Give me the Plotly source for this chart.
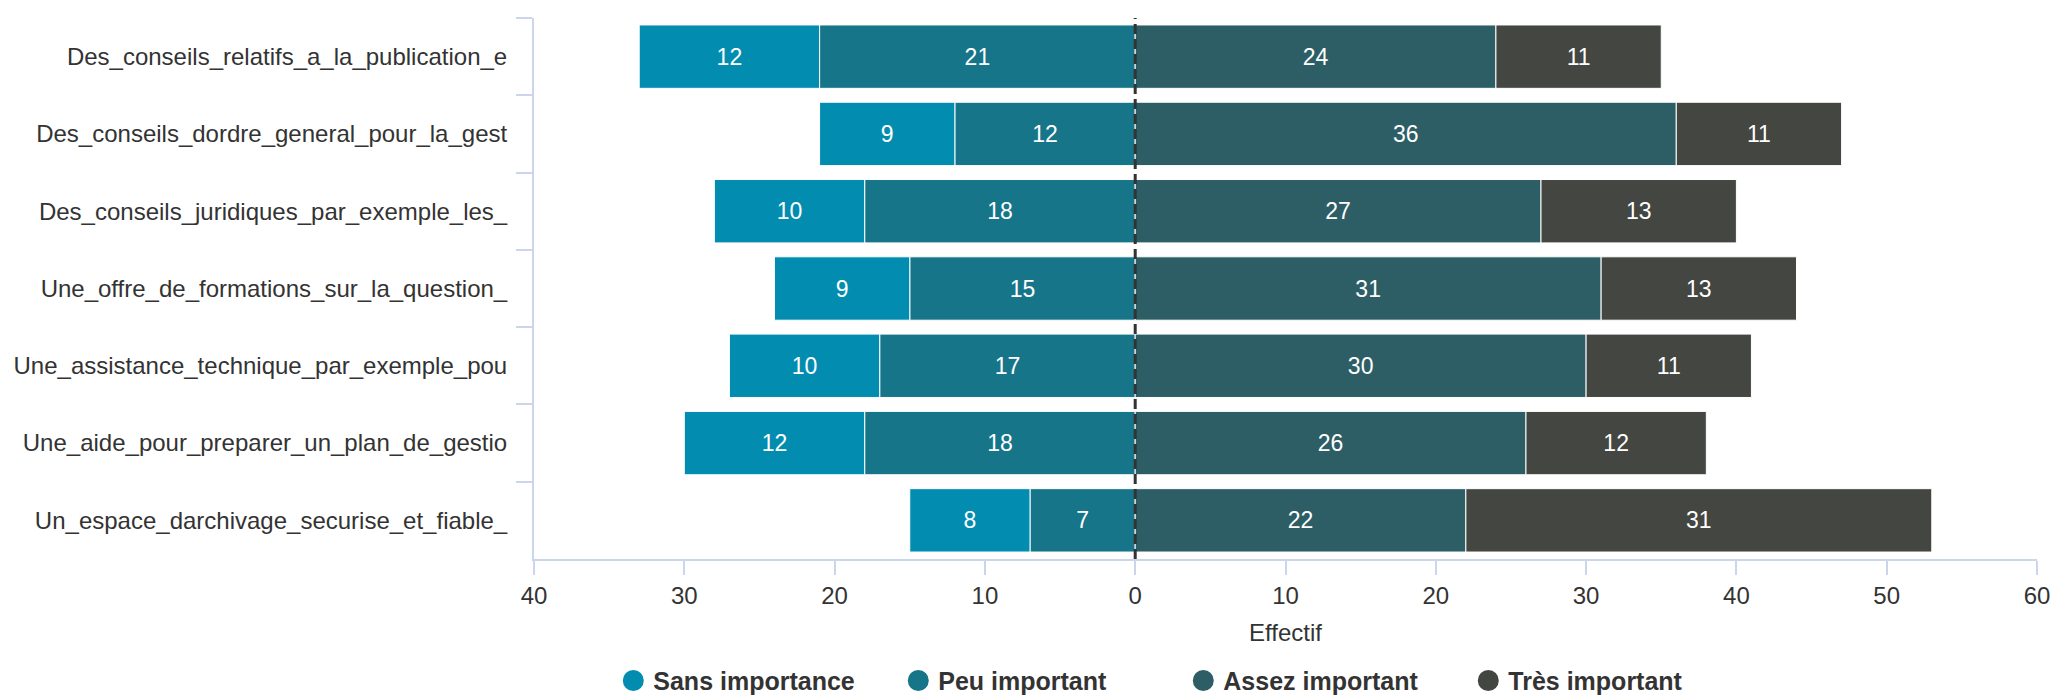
import plotly.graph_objects as go

categories = [
    "Des_conseils_relatifs_a_la_publication_e",
    "Des_conseils_dordre_general_pour_la_gest",
    "Des_conseils_juridiques_par_exemple_les_",
    "Une_offre_de_formations_sur_la_question_",
    "Une_assistance_technique_par_exemple_pou",
    "Une_aide_pour_preparer_un_plan_de_gestio",
    "Un_espace_darchivage_securise_et_fiable_",
]
sans_importance = [12, 9, 10, 9, 10, 12, 8]
peu_important = [21, 12, 18, 15, 17, 18, 7]
assez_important = [24, 36, 27, 31, 30, 26, 22]
tres_important = [11, 11, 13, 13, 11, 12, 31]

tick_values = [-40, -30, -20, -10, 0, 10, 20, 30, 40, 50, 60]
tick_labels = ["40", "30", "20", "10", "0", "10", "20", "30", "40", "50", "60"]

colors = {
    "Sans importance": "#028DB0",
    "Peu important": "#17758A",
    "Assez important": "#2D5E66",
    "Très important": "#434641",
}

FONT = "Liberation Sans, Arial, sans-serif"
AXIS_COLOR = "#ccd6eb"
TEXT_COLOR = "#333333"

fig = go.Figure()

# Stacking order: first trace of each sign sits next to zero
series = [
    ("Peu important", peu_important, -1),
    ("Sans importance", sans_importance, -1),
    ("Assez important", assez_important, 1),
    ("Très important", tres_important, 1),
]
for name, vals, sign in series:
    fig.add_trace(go.Bar(
        name=name,
        y=categories,
        x=[sign * v for v in vals],
        orientation="h",
        text=[str(v) for v in vals],
        textposition="inside",
        insidetextanchor="middle",
        textangle=0,
        constraintext="none",
        textfont=dict(family=FONT, size=23, color="white"),
        marker=dict(color=colors[name], line=dict(color="white", width=1)),
        showlegend=False,
        hoverinfo="skip",
    ))

# Legend entries with circular symbols
for rank, name in enumerate(["Sans importance", "Peu important", "Assez important", "Très important"]):
    fig.add_trace(go.Scatter(
        name=name,
        x=[None], y=[None],
        mode="markers",
        marker=dict(symbol="circle", size=16, color=colors[name],
                    line=dict(color=colors[name], width=5)),
        legendrank=rank + 1,
        showlegend=True,
    ))

fig.add_shape(
    type="line", xref="x", yref="paper",
    x0=0, x1=0, y0=0, y1=1,
    line=dict(color="#333333", width=3, dash="10px,5px"),
    layer="above",
)

fig.update_layout(
    width=2058, height=697,
    margin=dict(l=534, r=21, t=18, b=138, autoexpand=False),
    paper_bgcolor="white", plot_bgcolor="white",
    barmode="relative",
    bargap=0.18,
    font=dict(family=FONT, size=24, color=TEXT_COLOR),
    showlegend=True,
    legend=dict(
        orientation="h",
        x=0.432, xanchor="center",
        y=-0.225, yanchor="middle",
        font=dict(family=FONT, size=25, color=TEXT_COLOR, weight="bold"),
        itemsizing="trace",
        traceorder="normal",
        entrywidth=240,
        entrywidthmode="pixels",
    ),
    xaxis=dict(
        range=[-40, 60],
        tickvals=tick_values,
        ticktext=tick_labels,
        showgrid=False,
        zeroline=False,
        showline=True,
        linecolor=AXIS_COLOR,
        linewidth=2,
        ticks="outside",
        ticklen=14,
        tickwidth=2,
        tickcolor=AXIS_COLOR,
        tickfont=dict(family=FONT, size=24, color=TEXT_COLOR),
        ticklabeloverflow="allow",
        title=dict(text="Effectif", font=dict(family=FONT, size=24, color=TEXT_COLOR), standoff=16),
        automargin=False,
        fixedrange=True,
    ),
    yaxis=dict(
        type="category",
        categoryorder="array",
        categoryarray=categories,
        autorange="reversed",
        showgrid=False,
        zeroline=False,
        showline=True,
        linecolor=AXIS_COLOR,
        linewidth=2,
        ticks="outside",
        tickson="boundaries",
        ticklen=16,
        tickwidth=2,
        tickcolor=AXIS_COLOR,
        tickfont=dict(family=FONT, size=24, color=TEXT_COLOR),
        ticklabelstandoff=20,
        automargin=False,
        fixedrange=True,
    ),
)

fig.write_html(
    "out.html",
    config={"displayModeBar": False},
    post_script="document.body.style.margin='0';document.body.style.overflow='hidden';",
)
